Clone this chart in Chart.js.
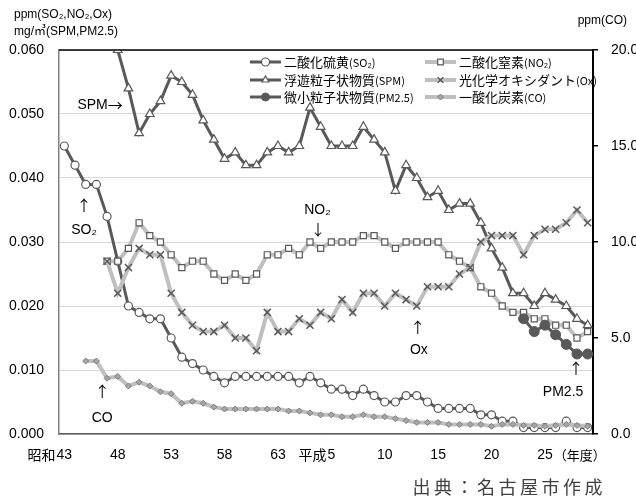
<!DOCTYPE html>
<html>
<head>
<meta charset="utf-8">
<script src="https://cdn.jsdelivr.net/npm/chart.js@4.4.1/dist/chart.umd.min.js"></script>
<style>
  html, body { margin: 0; padding: 0; background: #fff; }
  #wrap { width: 636px; height: 497px; }
</style>
</head>
<body>
<div id="wrap"><canvas id="airChart" width="636" height="497"></canvas></div>
<script>
// fiscal years 昭和43 (1968) .. 平成29 (2017)
const years = [1968, 1969, 1970, 1971, 1972, 1973, 1974, 1975, 1976, 1977,
  1978, 1979, 1980, 1981, 1982, 1983, 1984, 1985, 1986, 1987,
  1988, 1989, 1990, 1991, 1992, 1993, 1994, 1995, 1996, 1997,
  1998, 1999, 2000, 2001, 2002, 2003, 2004, 2005, 2006, 2007,
  2008, 2009, 2010, 2011, 2012, 2013, 2014, 2015, 2016, 2017];

// tick labels, one every 5 years starting at 1968
const xTickLabels = ['昭和43', '48', '53', '58', '63', '平成5', '10', '15', '20', '25'];
const leftTicks = [0, 0.01, 0.02, 0.03, 0.04, 0.05, 0.06];
const rightTicks = [0, 5, 10, 15, 20];

// ppm
const so2 = [0.045, 0.042, 0.039, 0.039, 0.034, 0.027, 0.020, 0.019, 0.018, 0.018,
  0.015, 0.012, 0.011, 0.010, 0.009, 0.008, 0.009, 0.009, 0.009, 0.009,
  0.009, 0.009, 0.008, 0.009, 0.008, 0.007, 0.007, 0.006, 0.007, 0.006,
  0.005, 0.005, 0.006, 0.006, 0.005, 0.004, 0.004, 0.004, 0.004, 0.003,
  0.003, 0.002, 0.002, 0.001, 0.001, 0.001, 0.001, 0.002, 0.001, 0.001];
const no2 = [null, null, null, null, 0.027, 0.027, 0.029, 0.033, 0.031, 0.030,
  0.028, 0.026, 0.027, 0.027, 0.025, 0.024, 0.025, 0.024, 0.025, 0.028,
  0.028, 0.029, 0.028, 0.030, 0.029, 0.030, 0.030, 0.030, 0.031, 0.031,
  0.030, 0.029, 0.030, 0.030, 0.030, 0.030, 0.028, 0.027, 0.026, 0.023,
  0.022, 0.020, 0.019, 0.019, 0.018, 0.018, 0.017, 0.017, 0.015, 0.016];
const ox = [null, null, null, null, 0.027, 0.022, 0.026, 0.029, 0.028, 0.028,
  0.022, 0.019, 0.017, 0.016, 0.016, 0.017, 0.015, 0.015, 0.013, 0.019,
  0.016, 0.016, 0.018, 0.017, 0.019, 0.018, 0.021, 0.019, 0.022, 0.022,
  0.020, 0.022, 0.021, 0.020, 0.023, 0.023, 0.023, 0.025, 0.026, 0.030,
  0.031, 0.031, 0.031, 0.028, 0.031, 0.032, 0.032, 0.033, 0.035, 0.033];
// mg/m3
const spm = [null, null, null, null, null, 0.060, 0.054, 0.047, 0.050, 0.052,
  0.056, 0.055, 0.053, 0.049, 0.046, 0.043, 0.044, 0.042, 0.042, 0.044,
  0.045, 0.044, 0.045, 0.051, 0.048, 0.045, 0.045, 0.045, 0.048, 0.046,
  0.044, 0.038, 0.042, 0.040, 0.037, 0.038, 0.035, 0.036, 0.036, 0.033,
  0.029, 0.026, 0.022, 0.022, 0.020, 0.022, 0.021, 0.020, 0.018, 0.017];
const pm25 = [null, null, null, null, null, null, null, null, null, null,
  null, null, null, null, null, null, null, null, null, null,
  null, null, null, null, null, null, null, null, null, null,
  null, null, null, null, null, null, null, null, null, null,
  null, null, null, 0.018, 0.016, 0.017, 0.0155, 0.014, 0.0125, 0.0125];
// ppm, right axis
const co = [null, null, 3.8, 3.8, 2.9, 3.0, 2.5, 2.7, 2.5, 2.2,
  2.1, 1.6, 1.7, 1.6, 1.4, 1.3, 1.3, 1.3, 1.3, 1.3,
  1.3, 1.2, 1.2, 1.1, 1.0, 1.0, 0.9, 0.9, 1.0, 0.9,
  0.9, 0.8, 0.7, 0.6, 0.6, 0.6, 0.5, 0.5, 0.5, 0.5,
  0.4, 0.5, 0.5, 0.45, 0.45, 0.4, 0.45, 0.5, 0.45, 0.4];

const DARK = '#595959';
const LIGHT = '#bfbfbf';
const latin = '"Liberation Sans", Arial, "Noto Sans CJK JP", sans-serif';
const jp = '"Noto Sans CJK JP", sans-serif';

// legend entries: [dataset index, name, unit part]
const legendItems = [
  [0, '二酸化硫黄', '(SO₂)'], [1, '二酸化窒素', '(NO₂)'],
  [2, '浮遊粒子状物質', '(SPM)'], [3, '光化学オキシダント', '(Ox)'],
  [4, '微小粒子状物質', '(PM2.5)'], [5, '一酸化炭素', '(CO)']
];

// labels pointing at the lines: [text, category index, value on left axis]
const notes = [
  ['SPM→', 3.35, 0.0514],
  ['↑', 1.85, 0.0358], ['SO₂', 1.85, 0.0318],
  ['NO₂', 23.7, 0.0350], ['↓', 23.75, 0.0320],
  ['↑', 33.1, 0.0167], ['Ox', 33.2, 0.0131],
  ['↑', 47.9, 0.0103], ['PM2.5', 46.7, 0.0066],
  ['↑', 3.55, 0.0066], ['CO', 3.55, 0.0025]
];

function series(label, data, opts) {
  return Object.assign({
    label: label,
    data: data,
    fill: false,
    tension: 0,
    spanGaps: false,
    yAxisID: 'y',
    pointHoverRadius: 0
  }, opts);
}

const datasets = [
  series('二酸化硫黄(SO₂)', so2, { borderColor: DARK, borderWidth: 3, pointStyle: 'circle', pointRadius: 4,
    pointBackgroundColor: '#fff', pointBorderColor: DARK, pointBorderWidth: 1.2, order: 6 }),
  series('二酸化窒素(NO₂)', no2, { borderColor: LIGHT, borderWidth: 4, pointStyle: 'rect', pointRadius: 4.3,
    pointBackgroundColor: '#fff', pointBorderColor: DARK, pointBorderWidth: 1.2, order: 5 }),
  series('浮遊粒子状物質(SPM)', spm, { borderColor: DARK, borderWidth: 3, pointStyle: 'triangle', pointRadius: 5,
    pointBackgroundColor: '#fff', pointBorderColor: DARK, pointBorderWidth: 1.2, order: 4 }),
  series('光化学オキシダント(Ox)', ox, { borderColor: LIGHT, borderWidth: 4, pointStyle: 'crossRot', pointRadius: 5,
    pointBackgroundColor: DARK, pointBorderColor: DARK, pointBorderWidth: 1.5, order: 3 }),
  series('微小粒子状物質(PM2.5)', pm25, { borderColor: DARK, borderWidth: 3, pointStyle: 'circle', pointRadius: 5,
    pointBackgroundColor: DARK, pointBorderColor: DARK, pointBorderWidth: 1, order: 2 }),
  series('一酸化炭素(CO)', co, { borderColor: LIGHT, borderWidth: 4, pointStyle: 'rectRot', pointRadius: 3,
    pointBackgroundColor: '#a6a6a6', pointBorderColor: '#7f7f7f', pointBorderWidth: 1, order: 1, yAxisID: 'y2' })
];

// draws text centred at x, arrows in the CJK font so they come out tall
function drawNote(ctx, text, x, y) {
  const parts = text.split(/([↑↓→])/).filter(p => p);
  const fontOf = p => /[↑↓→]/.test(p) ? '15px ' + jp : '14px ' + latin;
  let total = 0;
  parts.forEach(p => { ctx.font = fontOf(p); total += ctx.measureText(p).width; });
  let cx = x - total / 2;
  ctx.textAlign = 'left';
  parts.forEach(p => {
    ctx.font = fontOf(p);
    ctx.fillText(p, cx, y);
    cx += ctx.measureText(p).width;
  });
}

// extra drawing: frame top, axis titles, x labels, legend, notes, source
const decor = {
  id: 'decor',
  afterDraw(chart) {
    const ctx = chart.ctx;
    const area = chart.chartArea;
    const xs = chart.scales.x, ys = chart.scales.y;
    ctx.save();

    // top edge of the plot frame
    ctx.strokeStyle = '#000';
    ctx.lineWidth = 1.5;
    ctx.beginPath();
    ctx.moveTo(area.left, area.top);
    ctx.lineTo(area.right, area.top);
    ctx.stroke();

    ctx.fillStyle = '#000';
    ctx.textBaseline = 'middle';

    // axis titles
    ctx.textAlign = 'left';
    ctx.font = '12px ' + latin;
    ctx.fillText('ppm(SO₂,NO₂,Ox)', 14, 15);
    ctx.fillText('mg/㎥(SPM,PM2.5)', 14, 32);
    ctx.textAlign = 'right';
    ctx.fillText('ppm(CO)', 627, 21);

    // x tick labels: number centred on the tick, era name to its left
    ctx.font = '14px ' + latin;
    const ly = area.bottom + 21;
    xTickLabels.forEach((lab, k) => {
      const px = xs.getPixelForValue(k * 5);
      const m = lab.match(/^(\D*)(\d+)$/);
      const num = m[2], pre = m[1];
      const w = ctx.measureText(num).width;
      ctx.textAlign = 'center';
      ctx.fillText(num, px, ly);
      if (pre) {
        ctx.textAlign = 'right';
        ctx.font = '14px ' + jp;
        ctx.fillText(pre, px - w / 2 - 1, ly);
        ctx.font = '14px ' + latin;
      }
      if (k === xTickLabels.length - 1) {
        ctx.textAlign = 'left';
        ctx.font = '13px ' + jp;
        ctx.fillText('（年度）', px + w / 2 + 1, ly);
        ctx.font = '14px ' + latin;
      }
    });

    // legend, two columns
    const colX = [area.left + 191, area.left + 366];
    const rowY = [area.top + 12, area.top + 30, area.top + 47];
    legendItems.forEach((it, k) => {
      const ds = chart.data.datasets[it[0]];
      const x0 = colX[k % 2], y0 = rowY[Math.floor(k / 2)];
      ctx.strokeStyle = ds.borderColor;
      ctx.lineWidth = ds.borderWidth;
      ctx.beginPath();
      ctx.moveTo(x0, y0);
      ctx.lineTo(x0 + 31, y0);
      ctx.stroke();
      ctx.fillStyle = ds.pointBackgroundColor;
      ctx.strokeStyle = ds.pointBorderColor;
      ctx.lineWidth = ds.pointBorderWidth;
      Chart.helpers.drawPoint(ctx, {
        pointStyle: ds.pointStyle, radius: Math.min(ds.pointRadius, 4), borderWidth: ds.pointBorderWidth, rotation: 0
      }, x0 + 15.5, y0);
      ctx.fillStyle = '#000';
      ctx.textAlign = 'left';
      ctx.font = '13px ' + jp;
      ctx.fillText(it[1], x0 + 34, y0);
      const w = ctx.measureText(it[1]).width;
      ctx.font = '11px ' + jp;
      ctx.fillText(it[2], x0 + 34 + w, y0 + 1);
    });

    // notes next to the lines
    ctx.fillStyle = '#000';
    notes.forEach(n => {
      drawNote(ctx, n[0], xs.getPixelForValue(n[1]), ys.getPixelForValue(n[2]));
    });

    // source
    ctx.fillStyle = '#404040';
    ctx.textAlign = 'right';
    ctx.font = '18px ' + jp;
    ctx.letterSpacing = '3.5px';
    ctx.fillText('出典：名古屋市作成', 606, 487);
    ctx.restore();
  }
};

const ctx = document.getElementById('airChart').getContext('2d');
const airChart = new Chart(ctx, {
  type: 'line',
  data: { labels: years, datasets: datasets },
  options: {
    responsive: false,
    animation: false,
    events: [],
    layout: { padding: { top: 50, left: 0, right: 0, bottom: 0 } },
    plugins: { legend: { display: false }, tooltip: { enabled: false } },
    scales: {
      x: {
        type: 'category',
        offset: true,
        grid: { display: false, drawTicks: false },
        border: { color: DARK, width: 1.5 },
        ticks: { display: false },
        afterFit: s => { s.height = 63; }
      },
      y: {
        position: 'left',
        min: 0,
        max: 0.06,
        afterBuildTicks: s => { s.ticks = leftTicks.map(v => ({ value: v })); },
        ticks: { callback: v => v.toFixed(3), color: '#000', padding: 15, font: { family: latin, size: 14 } },
        grid: { color: '#d9d9d9', lineWidth: 1, drawTicks: false },
        border: { color: '#808080', width: 1.5 },
        afterFit: s => { s.width = 59; }
      },
      y2: {
        position: 'right',
        min: 0,
        max: 20,
        afterBuildTicks: s => { s.ticks = rightTicks.map(v => ({ value: v })); },
        ticks: { callback: v => v.toFixed(1), color: '#000', padding: 13, font: { family: latin, size: 14 } },
        grid: { drawOnChartArea: false, tickLength: 5, color: '#000', lineWidth: 1.5 },
        border: { color: '#000', width: 2 },
        afterFit: s => { s.width = 43; }
      }
    }
  },
  plugins: [decor]
});
</script>
</body>
</html>
